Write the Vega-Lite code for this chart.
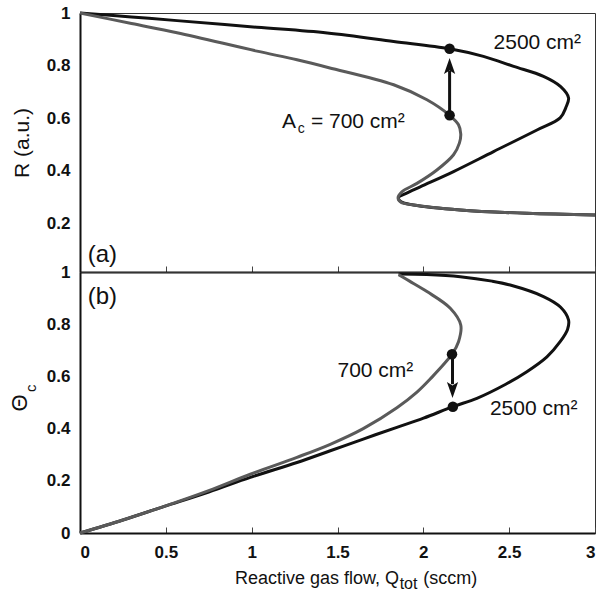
{
  "$schema": "https://vega.github.io/schema/vega-lite/v6.json",
  "background": "white",
  "padding": {"left": 8, "top": 3, "right": 5, "bottom": 5},
  "spacing": 0,
  "bounds": "flush",
  "resolve": {"scale": {"x": "independent", "y": "independent"}},
  "config": {
    "view": {"stroke": "#333333", "strokeWidth": 1},
    "font": "Liberation Sans",
    "axis": {
      "grid": false,
      "domainColor": "#111111",
      "domainWidth": 2,
      "labelFont": "Liberation Sans",
      "labelFontWeight": "bold",
      "labelFontSize": 17,
      "labelColor": "#111111",
      "titleFont": "Liberation Sans",
      "titleFontWeight": "normal",
      "titleFontSize": 21,
      "titleColor": "#111111",
      "tickColor": "#444444",
      "tickWidth": 1,
      "format": "~g"
    },
    "text": {"font": "Liberation Sans", "color": "#111111"}
  },
  "datasets": {
    "top": [
      {"area": "2500", "i": 0, "q": 0, "r": 1},
      {"area": "2500", "i": 1, "q": 0.3, "r": 0.985},
      {"area": "2500", "i": 2, "q": 0.565, "r": 0.971},
      {"area": "2500", "i": 3, "q": 1.03, "r": 0.946},
      {"area": "2500", "i": 4, "q": 1.44, "r": 0.924},
      {"area": "2500", "i": 5, "q": 1.827, "r": 0.892},
      {"area": "2500", "i": 6, "q": 2.153, "r": 0.864},
      {"area": "2500", "i": 7, "q": 2.35, "r": 0.835},
      {"area": "2500", "i": 8, "q": 2.526, "r": 0.797},
      {"area": "2500", "i": 9, "q": 2.7, "r": 0.759},
      {"area": "2500", "i": 10, "q": 2.8, "r": 0.72},
      {"area": "2500", "i": 11, "q": 2.846, "r": 0.677},
      {"area": "2500", "i": 12, "q": 2.83, "r": 0.64},
      {"area": "2500", "i": 13, "q": 2.797, "r": 0.601},
      {"area": "2500", "i": 14, "q": 2.662, "r": 0.555},
      {"area": "2500", "i": 15, "q": 2.409, "r": 0.473},
      {"area": "2500", "i": 16, "q": 2.176, "r": 0.397},
      {"area": "2500", "i": 17, "q": 1.982, "r": 0.339},
      {"area": "2500", "i": 18, "q": 1.9, "r": 0.314},
      {"area": "2500", "i": 19, "q": 1.855, "r": 0.297},
      {"area": "2500", "i": 20, "q": 1.87, "r": 0.282},
      {"area": "2500", "i": 21, "q": 1.943, "r": 0.27},
      {"area": "2500", "i": 22, "q": 2.215, "r": 0.251},
      {"area": "2500", "i": 23, "q": 2.603, "r": 0.238},
      {"area": "2500", "i": 24, "q": 3.0, "r": 0.232},
      {"area": "700", "i": 0, "q": 0, "r": 1},
      {"area": "700", "i": 1, "q": 0.3, "r": 0.96},
      {"area": "700", "i": 2, "q": 0.565, "r": 0.925},
      {"area": "700", "i": 3, "q": 1.031, "r": 0.855},
      {"area": "700", "i": 4, "q": 1.264, "r": 0.822},
      {"area": "700", "i": 5, "q": 1.45, "r": 0.792},
      {"area": "700", "i": 6, "q": 1.827, "r": 0.727},
      {"area": "700", "i": 7, "q": 2.021, "r": 0.67},
      {"area": "700", "i": 8, "q": 2.153, "r": 0.611},
      {"area": "700", "i": 9, "q": 2.205, "r": 0.575},
      {"area": "700", "i": 10, "q": 2.218, "r": 0.54},
      {"area": "700", "i": 11, "q": 2.21, "r": 0.505},
      {"area": "700", "i": 12, "q": 2.176, "r": 0.461},
      {"area": "700", "i": 13, "q": 2.079, "r": 0.403},
      {"area": "700", "i": 14, "q": 1.963, "r": 0.352},
      {"area": "700", "i": 15, "q": 1.875, "r": 0.32},
      {"area": "700", "i": 16, "q": 1.853, "r": 0.298},
      {"area": "700", "i": 17, "q": 1.87, "r": 0.28},
      {"area": "700", "i": 18, "q": 1.943, "r": 0.27},
      {"area": "700", "i": 19, "q": 2.215, "r": 0.251},
      {"area": "700", "i": 20, "q": 2.603, "r": 0.238},
      {"area": "700", "i": 21, "q": 3.0, "r": 0.232}
    ],
    "bottom": [
      {"area": "2500", "i": 0, "q": 0, "t": 0},
      {"area": "2500", "i": 1, "q": 0.25, "t": 0.05},
      {"area": "2500", "i": 2, "q": 0.487, "t": 0.101},
      {"area": "2500", "i": 3, "q": 0.75, "t": 0.157},
      {"area": "2500", "i": 4, "q": 0.992, "t": 0.213},
      {"area": "2500", "i": 5, "q": 1.264, "t": 0.27},
      {"area": "2500", "i": 6, "q": 1.458, "t": 0.315},
      {"area": "2500", "i": 7, "q": 1.65, "t": 0.36},
      {"area": "2500", "i": 8, "q": 1.846, "t": 0.405},
      {"area": "2500", "i": 9, "q": 2.001, "t": 0.44},
      {"area": "2500", "i": 10, "q": 2.172, "t": 0.484},
      {"area": "2500", "i": 11, "q": 2.312, "t": 0.516},
      {"area": "2500", "i": 12, "q": 2.48, "t": 0.57},
      {"area": "2500", "i": 13, "q": 2.603, "t": 0.618},
      {"area": "2500", "i": 14, "q": 2.72, "t": 0.675},
      {"area": "2500", "i": 15, "q": 2.797, "t": 0.733},
      {"area": "2500", "i": 16, "q": 2.84, "t": 0.78},
      {"area": "2500", "i": 17, "q": 2.846, "t": 0.816},
      {"area": "2500", "i": 18, "q": 2.8, "t": 0.865},
      {"area": "2500", "i": 19, "q": 2.7, "t": 0.906},
      {"area": "2500", "i": 20, "q": 2.506, "t": 0.95},
      {"area": "2500", "i": 21, "q": 2.4, "t": 0.965},
      {"area": "2500", "i": 22, "q": 2.215, "t": 0.982},
      {"area": "2500", "i": 23, "q": 2.02, "t": 0.99},
      {"area": "2500", "i": 24, "q": 1.856, "t": 0.992},
      {"area": "700", "i": 0, "q": 0, "t": 0},
      {"area": "700", "i": 1, "q": 0.25, "t": 0.05},
      {"area": "700", "i": 2, "q": 0.487, "t": 0.101},
      {"area": "700", "i": 3, "q": 0.75, "t": 0.162},
      {"area": "700", "i": 4, "q": 0.992, "t": 0.225},
      {"area": "700", "i": 5, "q": 1.264, "t": 0.29},
      {"area": "700", "i": 6, "q": 1.458, "t": 0.34},
      {"area": "700", "i": 7, "q": 1.65, "t": 0.4},
      {"area": "700", "i": 8, "q": 1.846, "t": 0.48},
      {"area": "700", "i": 9, "q": 1.963, "t": 0.54},
      {"area": "700", "i": 10, "q": 2.04, "t": 0.59},
      {"area": "700", "i": 11, "q": 2.167, "t": 0.685},
      {"area": "700", "i": 12, "q": 2.205, "t": 0.733},
      {"area": "700", "i": 13, "q": 2.218, "t": 0.797},
      {"area": "700", "i": 14, "q": 2.157, "t": 0.861},
      {"area": "700", "i": 15, "q": 2.021, "t": 0.925},
      {"area": "700", "i": 16, "q": 1.92, "t": 0.965},
      {"area": "700", "i": 17, "q": 1.856, "t": 0.99}
    ]
  },
  "vconcat": [
    {
      "width": 515,
      "height": 259,
      "layer": [
        {
          "data": {"name": "top"},
          "mark": {"type": "line", "strokeWidth": 3, "interpolate": "catmull-rom"},
          "encoding": {
            "x": {"field": "q", "type": "quantitative", "scale": {"domain": [0, 3], "nice": false},
                  "axis": {"values": [0, 0.5, 1, 1.5, 2, 2.5, 3], "labels": false, "tickSize": -6, "title": null}},
            "y": {"field": "r", "type": "quantitative", "scale": {"domain": [0.015, 1], "nice": false, "zero": false},
                  "axis": {"values": [0.2, 0.4, 0.6, 0.8, 1], "ticks": false, "labelPadding": 10, "title": "R (a.u.)", "titlePadding": 14}},
            "color": {"field": "area", "type": "nominal", "scale": {"domain": ["2500", "700"], "range": ["#111111", "#5a5a5a"]}, "legend": null},
            "order": {"field": "i", "type": "quantitative"}
          }
        },
        {
          "data": {"values": [{"q": 2.153, "y": 0.611, "y2": 0.78}]},
          "mark": {"type": "rule", "strokeWidth": 3, "color": "#111111"},
          "encoding": {"x": {"field": "q", "type": "quantitative"}, "y": {"field": "y", "type": "quantitative"}, "y2": {"field": "y2"}}
        },
        {
          "data": {"values": [{"q": 2.153, "r": 0.798}]},
          "mark": {"type": "point", "shape": "M0,-1L0.7,1L0,0.55L-0.7,1Z", "filled": true, "size": 256, "color": "#111111", "opacity": 1},
          "encoding": {"x": {"field": "q", "type": "quantitative"}, "y": {"field": "r", "type": "quantitative"}}
        },
        {
          "data": {"values": [{"q": 2.153, "r": 0.864}, {"q": 2.153, "r": 0.611}]},
          "mark": {"type": "point", "shape": "circle", "filled": true, "size": 110, "color": "#111111", "opacity": 1},
          "encoding": {"x": {"field": "q", "type": "quantitative"}, "y": {"field": "r", "type": "quantitative"}}
        },
        {
          "data": {"values": [
            {"q": 2.409, "r": 0.886, "label": "2500 cm²"},
            {"q": 1.176, "r": 0.586, "label": "A"},
            {"q": 1.345, "r": 0.586, "label": "= 700 cm²"}
          ]},
          "mark": {"type": "text", "align": "left", "baseline": "middle", "fontSize": 21},
          "encoding": {
            "x": {"field": "q", "type": "quantitative"},
            "y": {"field": "r", "type": "quantitative"},
            "text": {"field": "label"}
          }
        },
        {
          "data": {"values": [{"q": 1.268, "r": 0.557, "label": "c"}]},
          "mark": {"type": "text", "align": "left", "baseline": "middle", "fontSize": 14},
          "encoding": {
            "x": {"field": "q", "type": "quantitative"},
            "y": {"field": "r", "type": "quantitative"},
            "text": {"field": "label"}
          }
        },
        {
          "data": {"values": [{"q": 0.045, "r": 0.08, "label": "(a)"}]},
          "mark": {"type": "text", "align": "left", "baseline": "middle", "fontSize": 24},
          "encoding": {
            "x": {"field": "q", "type": "quantitative"},
            "y": {"field": "r", "type": "quantitative"},
            "text": {"field": "label"}
          }
        }
      ]
    },
    {
      "width": 515,
      "height": 261,
      "layer": [
        {
          "data": {"name": "bottom"},
          "mark": {"type": "line", "strokeWidth": 3, "interpolate": "catmull-rom"},
          "encoding": {
            "x": {"field": "q", "type": "quantitative", "scale": {"domain": [0, 3], "nice": false},
                  "axis": {"values": [0, 0.5, 1, 1.5, 2, 2.5, 3], "tickSize": -6, "labelPadding": 17, "title": null}},
            "y": {"field": "t", "type": "quantitative", "scale": {"domain": [0, 1], "nice": false},
                  "axis": {"values": [0, 0.2, 0.4, 0.6, 0.8, 1], "ticks": false, "labelPadding": 10, "title": null}},
            "color": {"field": "area", "type": "nominal", "scale": {"domain": ["2500", "700"], "range": ["#111111", "#5a5a5a"]}, "legend": null},
            "order": {"field": "i", "type": "quantitative"}
          }
        },
        {
          "data": {"values": [{"q": 2.17, "y": 0.685, "y2": 0.57}]},
          "mark": {"type": "rule", "strokeWidth": 3, "color": "#111111"},
          "encoding": {"x": {"field": "q", "type": "quantitative"}, "y": {"field": "y", "type": "quantitative"}, "y2": {"field": "y2"}}
        },
        {
          "data": {"values": [{"q": 2.17, "t": 0.548}]},
          "mark": {"type": "point", "shape": "M0,1L0.7,-1L0,-0.55L-0.7,-1Z", "filled": true, "size": 256, "color": "#111111", "opacity": 1},
          "encoding": {"x": {"field": "q", "type": "quantitative"}, "y": {"field": "t", "type": "quantitative"}}
        },
        {
          "data": {"values": [{"q": 2.167, "t": 0.685}, {"q": 2.172, "t": 0.484}]},
          "mark": {"type": "point", "shape": "circle", "filled": true, "size": 110, "color": "#111111", "opacity": 1},
          "encoding": {"x": {"field": "q", "type": "quantitative"}, "y": {"field": "t", "type": "quantitative"}}
        },
        {
          "data": {"values": [
            {"q": 1.5, "t": 0.621, "label": "700 cm²"},
            {"q": 2.388, "t": 0.475, "label": "2500 cm²"}
          ]},
          "mark": {"type": "text", "align": "left", "baseline": "middle", "fontSize": 21},
          "encoding": {
            "x": {"field": "q", "type": "quantitative"},
            "y": {"field": "t", "type": "quantitative"},
            "text": {"field": "label"}
          }
        },
        {
          "data": {"values": [{"q": 0.045, "t": 0.905, "label": "(b)"}]},
          "mark": {"type": "text", "align": "left", "baseline": "middle", "fontSize": 24},
          "encoding": {
            "x": {"field": "q", "type": "quantitative"},
            "y": {"field": "t", "type": "quantitative"},
            "text": {"field": "label"}
          }
        },
        {
          "data": {"values": [{"q": 1.858, "t": -0.197, "label": "Reactive gas flow, Q"}]},
          "mark": {"type": "text", "align": "right", "baseline": "alphabetic", "fontSize": 18},
          "encoding": {
            "x": {"field": "q", "type": "quantitative"},
            "y": {"field": "t", "type": "quantitative"},
            "text": {"field": "label"}
          }
        },
        {
          "data": {"values": [{"q": 1.862, "t": -0.215, "label": "tot"}]},
          "mark": {"type": "text", "align": "left", "baseline": "alphabetic", "fontSize": 16},
          "encoding": {
            "x": {"field": "q", "type": "quantitative"},
            "y": {"field": "t", "type": "quantitative"},
            "text": {"field": "label"}
          }
        },
        {
          "data": {"values": [{"q": 2.0, "t": -0.197, "label": "(sccm)"}]},
          "mark": {"type": "text", "align": "left", "baseline": "alphabetic", "fontSize": 18},
          "encoding": {
            "x": {"field": "q", "type": "quantitative"},
            "y": {"field": "t", "type": "quantitative"},
            "text": {"field": "label"}
          }
        },
        {
          "data": {"values": [{"q": -0.35, "t": 0.498, "label": "Θ"}]},
          "mark": {"type": "text", "angle": 270, "align": "center", "baseline": "middle", "fontSize": 22},
          "encoding": {
            "x": {"field": "q", "type": "quantitative"},
            "y": {"field": "t", "type": "quantitative"},
            "text": {"field": "label"}
          }
        },
        {
          "data": {"values": [{"q": -0.285, "t": 0.555, "label": "c"}]},
          "mark": {"type": "text", "angle": 270, "align": "center", "baseline": "middle", "fontSize": 15},
          "encoding": {
            "x": {"field": "q", "type": "quantitative"},
            "y": {"field": "t", "type": "quantitative"},
            "text": {"field": "label"}
          }
        }
      ]
    }
  ]
}
